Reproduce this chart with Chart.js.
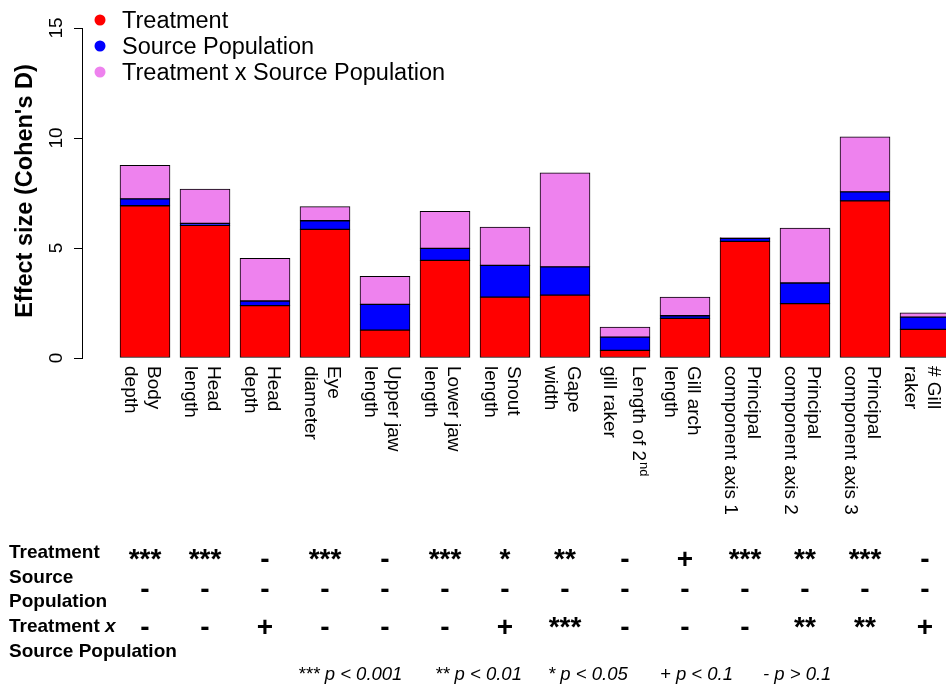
<!DOCTYPE html>
<html>
<head>
<meta charset="utf-8">
<script src="https://cdn.jsdelivr.net/npm/chart.js@4/dist/chart.umd.min.js"></script>
<style>
  html, body { margin: 0; padding: 0; background: #fff; overflow: hidden; }
  #chart { display: block; }
</style>
</head>
<body>
<canvas id="chart" width="946" height="686"></canvas>
<script>
// Traits (two-line labels, "^" marks a superscript)
var traits = [
  'Body\ndepth', 'Head\nlength', 'Head\ndepth', 'Eye\ndiameter',
  'Upper jaw\nlength', 'Lower jaw\nlength', 'Snout\nlength', 'Gape\nwidth',
  'Length of 2^nd\ngill raker', 'Gill arch\nlength',
  'Principal\ncomponent axis 1', 'Principal\ncomponent axis 2',
  'Principal\ncomponent axis 3', '# Gill\nraker'
];

// Effect sizes (Cohen's D), one stacked segment each
var treatment = [6.92, 6.03, 2.38, 5.85, 1.27, 4.44, 2.77, 2.86, 0.35, 1.80, 5.30, 2.47, 7.14, 1.30];
var sourcePop = [0.31, 0.09, 0.21, 0.39, 1.17, 0.54, 1.44, 1.28, 0.60, 0.12, 0.14, 0.94, 0.41, 0.56];
var interaction = [1.53, 1.56, 1.94, 0.64, 1.27, 1.69, 1.74, 4.28, 0.46, 0.85, 0.03, 2.50, 2.50, 0.19];

var yTicks = [0, 5, 10, 15];

// Significance codes under each trait
var sigTreatment = ['***', '***', '-', '***', '-', '***', '*', '**', '-', '+', '***', '**', '***', '-'];
var sigSource = ['-', '-', '-', '-', '-', '-', '-', '-', '-', '-', '-', '-', '-', '-'];
var sigInteraction = ['-', '-', '+', '-', '-', '-', '+', '***', '-', '-', '-', '**', '**', '+'];

var keyText = ['*** p < 0.001', '** p < 0.01', '* p < 0.05', '+ p < 0.1', '- p > 0.1'];

var FONT = '"Liberation Sans", Arial, Helvetica, sans-serif';


function toPoints(values) {
  return values.map(function(v, i) { return {x: i, y: v}; });
}


function drawLine(ctx, text, y, size) {
  var parts = text.split('^');
  ctx.fillText(parts[0], 0, y);
  if (parts.length > 1) {
    var w = ctx.measureText(parts[0]).width;
    ctx.font = Math.round(size * 0.7) + 'px ' + FONT;
    ctx.fillText(parts[1], w + 1, y - 7);
    ctx.font = size + 'px ' + FONT;
  }
}


var annotations = {
  id: 'annotations',
  afterDraw: function(chart) {
    var ctx = chart.ctx;
    var xs = chart.scales.x;
    var ys = chart.scales.y;
    var area = chart.chartArea;
    ctx.save();
    ctx.fillStyle = '#000';

    // y tick labels, rotated
    ctx.font = '19px ' + FONT;
    ctx.textAlign = 'center';
    ctx.textBaseline = 'alphabetic';
    yTicks.forEach(function(v) {
      ctx.save();
      ctx.translate(62, ys.getPixelForValue(v));
      ctx.rotate(-Math.PI / 2);
      ctx.fillText(String(v), 0, 0);
      ctx.restore();
    });

    // y axis title
    ctx.font = 'bold 23.5px ' + FONT;
    ctx.save();
    ctx.translate(32, (area.top + area.bottom) / 2 - 2);
    ctx.rotate(-Math.PI / 2);
    ctx.fillText("Effect size (Cohen's D)", 0, 0);
    ctx.restore();

    // trait labels, rotated clockwise
    ctx.font = '19px ' + FONT;
    ctx.textAlign = 'left';
    traits.forEach(function(label, i) {
      var lines = label.split('\n');
      var sup = label.indexOf('^') >= 0;
      var base = xs.getPixelForValue(i) + 3 + (sup ? 4.5 : 0);
      var step = 23 + (sup ? 6 : 0);
      ctx.save();
      ctx.translate(base, 366);
      ctx.rotate(Math.PI / 2);
      lines.forEach(function(line, k) {
        drawLine(ctx, line, k * step, 19);
      });
      ctx.restore();
    });

    // legend
    ctx.font = '23.5px ' + FONT;
    chart.data.datasets.forEach(function(ds, k) {
      var base = 27.5 + k * 26;
      ctx.fillStyle = ds.backgroundColor;
      ctx.beginPath();
      ctx.arc(100, base - 7.5, 5.5, 0, Math.PI * 2);
      ctx.fill();
      ctx.fillStyle = '#000';
      ctx.fillText(ds.label, 122, base);
    });

    // significance table
    ctx.font = 'bold 19px ' + FONT;
    ctx.fillText('Treatment', 9, 558);
    ctx.fillText('Source', 9, 583);
    ctx.fillText('Population', 9, 607);
    ctx.fillText('Treatment ', 9, 631.5);
    var w = ctx.measureText('Treatment ').width;
    ctx.font = 'italic bold 19px ' + FONT;
    ctx.fillText('x', 9 + w, 631.5);
    ctx.font = 'bold 19px ' + FONT;
    ctx.fillText('Source Population', 9, 656.5);

    var rows = [[sigTreatment, 567.5], [sigSource, 597.5], [sigInteraction, 636]];
    ctx.font = 'bold 28px ' + FONT;
    ctx.textAlign = 'center';
    rows.forEach(function(row) {
      row[0].forEach(function(mark, i) {
        ctx.fillText(mark, xs.getPixelForValue(i), row[1]);
      });
    });

    // key
    ctx.font = 'italic 18.5px ' + FONT;
    ctx.textAlign = 'left';
    var keyX = [298, 435, 548, 660, 763];
    keyText.forEach(function(t, i) {
      ctx.fillText(t, keyX[i], 680);
    });

    ctx.restore();
  }
};


var barStyle = {
  borderColor: '#000',
  borderWidth: 1,
  borderSkipped: false,
  barThickness: 50,
};

var chart = new Chart(document.getElementById('chart'), {
  type: 'bar',
  data: {
    datasets: [
      Object.assign({label: 'Treatment', data: toPoints(treatment), backgroundColor: '#FF0000'}, barStyle),
      Object.assign({label: 'Source Population', data: toPoints(sourcePop), backgroundColor: '#0000FF'}, barStyle),
      Object.assign({label: 'Treatment x Source Population', data: toPoints(interaction), backgroundColor: '#EE82EE'}, barStyle),
    ],
  },
  options: {
    responsive: false,
    animation: false,
    layout: {
      padding: {top: 28, bottom: 328, left: 0, right: 0},
    },
    plugins: {
      legend: {display: false},
      tooltip: {enabled: false},
    },
    scales: {
      x: {
        type: 'linear',
        display: false,
        stacked: true,
        offset: false,
        grid: {offset: false},
        min: -1.05,
        max: 13.35,
      },
      y: {
        stacked: true,
        min: 0,
        max: 15,
        ticks: {display: false, stepSize: 5},
        grid: {drawOnChartArea: false, drawTicks: true, tickLength: 8, color: '#000'},
        border: {display: true, color: '#000', width: 1},
        afterFit: function(scale) { scale.width = 82; },
      },
    },
  },
  plugins: [annotations],
});
</script>
</body>
</html>
